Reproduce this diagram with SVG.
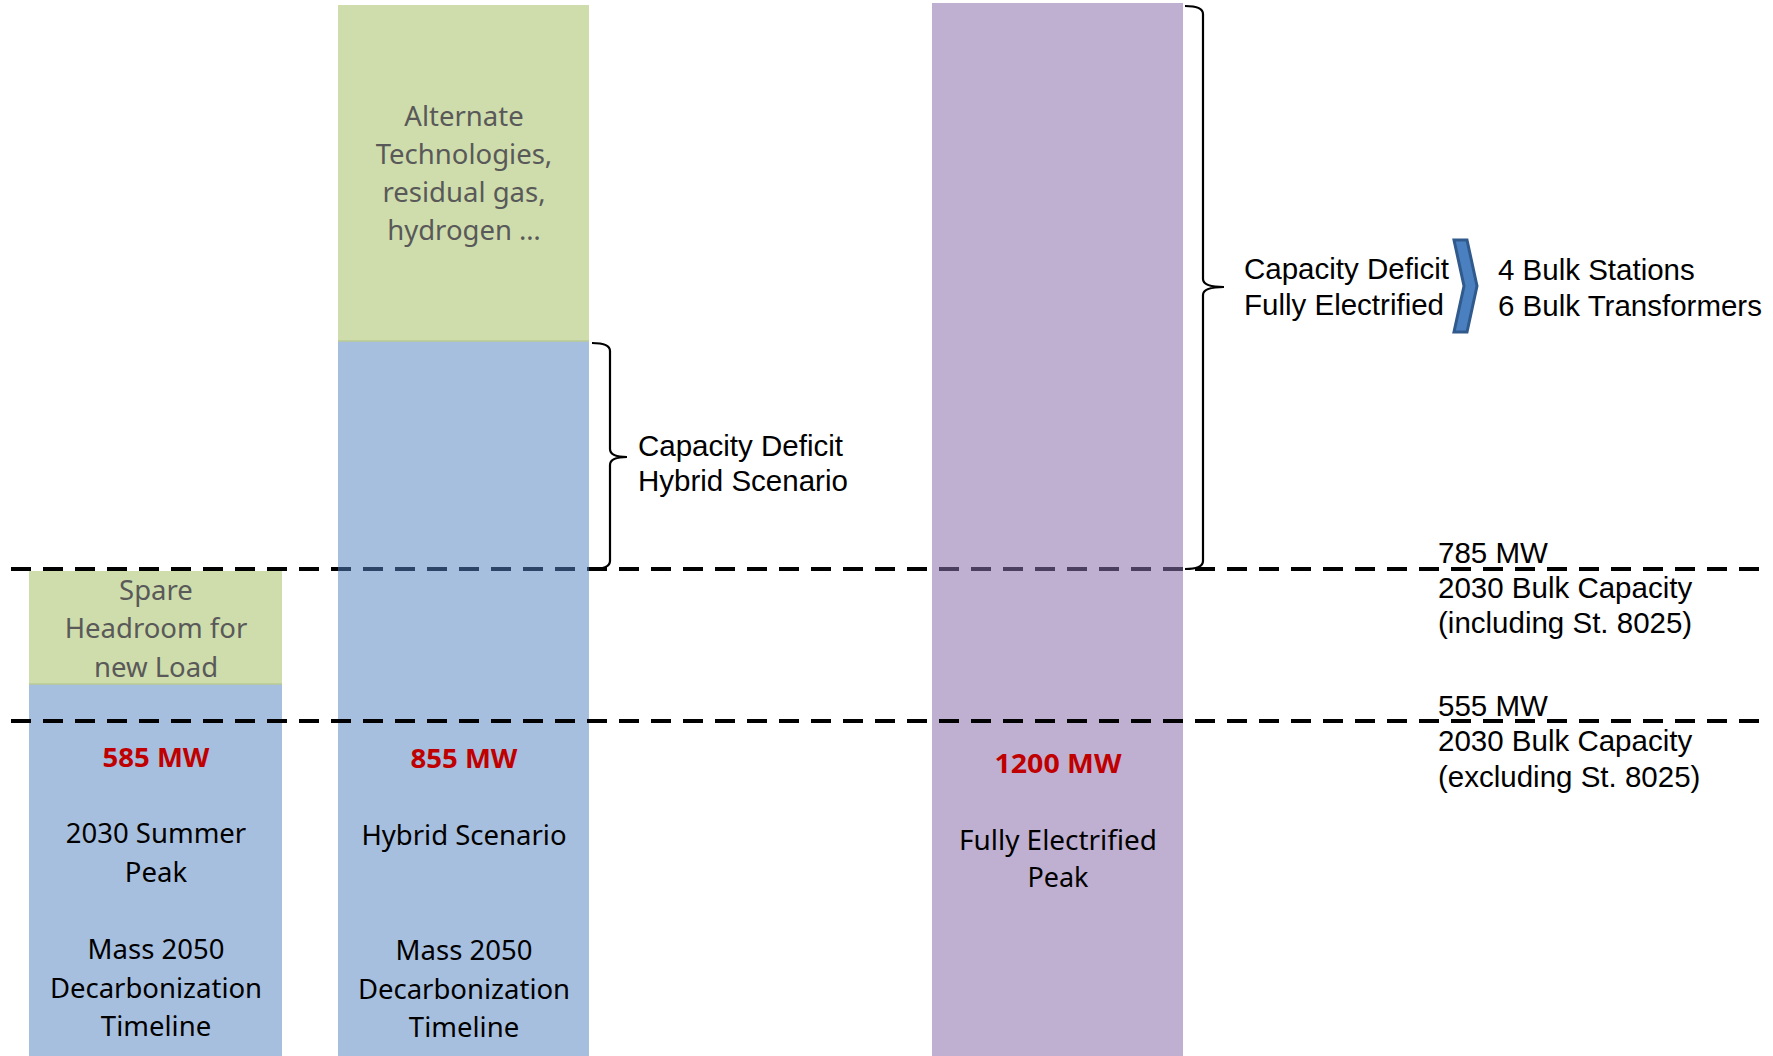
<svg xmlns="http://www.w3.org/2000/svg" width="1773" height="1056" viewBox="0 0 1773 1056">
<style>
.blue{fill:#a7bfde}
.green{fill:#cfddac}
.purple{fill:#bfb0d1}
.in{font-family:"Noto Sans","Open Sans",sans-serif;font-size:27.5px;fill:#000;text-anchor:middle}
.gray{fill:#595959}
.red{fill:#c00000;font-weight:bold}
.ar{font-family:"Liberation Sans",Arial,sans-serif;font-size:29.5px;fill:#000}
.dash{stroke:#000;stroke-width:4;stroke-dasharray:20 12;fill:none}
.brace{stroke:#000;stroke-width:2.2;fill:none}
</style>
<defs>
<clipPath id="clipHyb"><rect x="338" y="0" width="251" height="1056"/></clipPath>
<clipPath id="clipEl"><rect x="932" y="0" width="251" height="1056"/></clipPath>
</defs>
<rect width="1773" height="1056" fill="#fff"/>

<g id="bar-summer">
<rect class="blue" x="29" y="684" width="253" height="372"/>
<rect class="green" x="29" y="571" width="253" height="113"/>
<line x1="29" y1="684" x2="282" y2="684" stroke="#b8ca94" stroke-width="1.5"/>
<text class="in gray" x="156" y="600">Spare</text>
<text class="in gray" x="156" y="638">Headroom for</text>
<text class="in gray" x="156" y="677">new Load</text>
<text class="in red" x="156" y="767">585 MW</text>
<text class="in" x="156" y="843">2030 Summer</text>
<text class="in" x="156" y="882">Peak</text>
<text class="in" x="156" y="959">Mass 2050</text>
<text class="in" x="156" y="998">Decarbonization</text>
<text class="in" x="156" y="1036">Timeline</text>
</g>

<g id="bar-hybrid">
<rect class="blue" x="338" y="341" width="251" height="715"/>
<rect class="green" x="338" y="5" width="251" height="336"/>
<line x1="338" y1="341" x2="589" y2="341" stroke="#b8ca94" stroke-width="1.5"/>
<text class="in gray" x="464" y="126">Alternate</text>
<text class="in gray" x="464" y="164">Technologies,</text>
<text class="in gray" x="464" y="202">residual gas,</text>
<text class="in gray" x="464" y="240">hydrogen …</text>
<text class="in red" x="464" y="768">855 MW</text>
<text class="in" x="464" y="845">Hybrid Scenario</text>
<text class="in" x="464" y="960">Mass 2050</text>
<text class="in" x="464" y="999">Decarbonization</text>
<text class="in" x="464" y="1037">Timeline</text>
</g>

<g id="bar-electrified">
<rect class="purple" x="932" y="3" width="251" height="1053"/>
<text class="in red" x="1058" y="773" font-size="27" textLength="127" lengthAdjust="spacingAndGlyphs">1200 MW</text>
<text class="in" x="1058" y="850" textLength="198" lengthAdjust="spacingAndGlyphs">Fully Electrified</text>
<text class="in" x="1058" y="887" textLength="61" lengthAdjust="spacingAndGlyphs">Peak</text>
</g>

<g id="connectors">
<line class="dash" x1="11" y1="569" x2="1766" y2="569"/>
<line class="dash" x1="11" y1="569" x2="1766" y2="569" style="stroke:#2c4566" clip-path="url(#clipHyb)"/>
<line class="dash" x1="11" y1="569" x2="1766" y2="569" style="stroke:#4a3f5e" clip-path="url(#clipEl)"/>
<line class="dash" x1="11" y1="721" x2="1766" y2="721"/>
<path id="brace-hybrid" class="brace" d="M592 343 Q610 343 610 351 L610 449 Q610 457 627 457 Q610 457 610 465 L610 561 Q610 569 592 569"/>
<path id="brace-electrified" class="brace" d="M1185 6 Q1203 6 1203 14 L1203 279 Q1203 287 1224 287 Q1203 287 1203 295 L1203 561 Q1203 569 1185 569"/>
<polygon id="chevron" points="1454,240 1467,240 1477,286 1467,332 1454,332 1464,286" fill="#4a80c0" stroke="#30598c" stroke-width="3" stroke-linejoin="miter"/>
</g>

<g id="label-hybrid-deficit">
<text class="ar" x="638" y="456">Capacity Deficit</text>
<text class="ar" x="638" y="491">Hybrid Scenario</text>
</g>
<g id="label-electrified-deficit">
<text class="ar" x="1244" y="279">Capacity Deficit</text>
<text class="ar" x="1244" y="315">Fully Electrified</text>
</g>
<g id="label-bulk">
<text class="ar" x="1498" y="280">4 Bulk Stations</text>
<text class="ar" x="1498" y="316">6 Bulk Transformers</text>
</g>
<g id="label-785">
<text class="ar" x="1438" y="563">785 MW</text>
<text class="ar" x="1438" y="598">2030 Bulk Capacity</text>
<text class="ar" x="1438" y="633">(including St. 8025)</text>
</g>
<g id="label-555">
<text class="ar" x="1438" y="716">555 MW</text>
<text class="ar" x="1438" y="751">2030 Bulk Capacity</text>
<text class="ar" x="1438" y="787">(excluding St. 8025)</text>
</g>
</svg>
